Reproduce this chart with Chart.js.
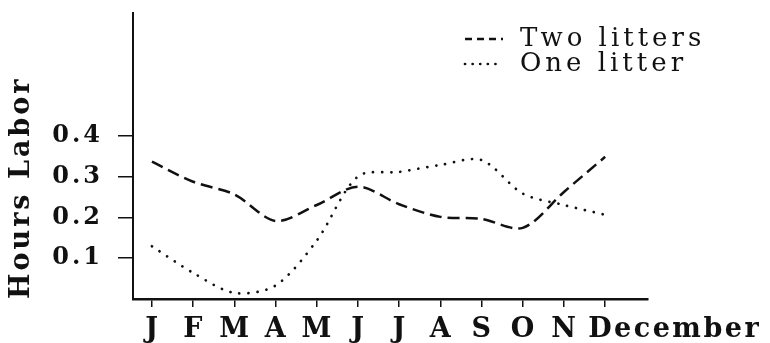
<!DOCTYPE html>
<html>
<head>
<meta charset="utf-8">
<script src="https://cdn.jsdelivr.net/npm/chart.js@4.4.0/dist/chart.umd.min.js"></script>
<style>
  html, body { margin: 0; padding: 0; background: #fff; }
  #wrap { width: 770px; height: 343px; }
</style>
</head>
<body>
<div id="wrap"><canvas id="labor"></canvas></div>
<script>
const months = ['J', 'F', 'M', 'A', 'M', 'J', 'J', 'A', 'S', 'O', 'N', 'December'];
const twoLitters = [0.336, 0.287, 0.256, 0.191, 0.23, 0.275, 0.232, 0.201, 0.196, 0.174, 0.262, 0.348];
const oneLitter = [0.129, 0.064, 0.015, 0.033, 0.143, 0.30, 0.311, 0.328, 0.34, 0.258, 0.23, 0.206];
const yTicks = [0.1, 0.2, 0.3, 0.4];
const seriesNames = ['Two litters', 'One litter'];

const ink = '#111';
const legendDash = [[7, 5], [0.1, 7.5]];

// month labels (last one hangs off to the right) and the stacked legend
const paperText = {
  id: 'paperText',
  beforeDraw(chart) {
    chart.ctx.letterSpacing = '3px';
  },
  afterDraw(chart) {
    const ctx = chart.ctx;
    const x = chart.scales.x;
    ctx.save();
    ctx.fillStyle = ink;
    ctx.textBaseline = 'alphabetic';
    ctx.font = 'bold 27px "DejaVu Serif"';
    ctx.letterSpacing = '2.5px';
    months.forEach((m, i) => {
      const px = x.getPixelForValue(i);
      if (i === months.length - 1) {
        ctx.textAlign = 'left';
        ctx.fillText(m, px - 17, 337);
      } else {
        ctx.textAlign = 'center';
        ctx.fillText(m, px + 1, 337);
      }
    });

    ctx.font = '26px "DejaVu Serif"';
    ctx.letterSpacing = '4px';
    ctx.textAlign = 'left';
    chart.data.datasets.forEach((ds, i) => {
      const y = 39 + i * 25;
      ctx.beginPath();
      ctx.setLineDash(legendDash[i]);
      ctx.lineCap = ds.borderCapStyle;
      ctx.lineWidth = ds.borderWidth;
      ctx.strokeStyle = ds.borderColor;
      ctx.moveTo(465, y);
      ctx.lineTo(503, y);
      ctx.stroke();
      ctx.fillText(ds.label, 520, y + 7);
    });
    ctx.restore();
  }
};

new Chart(document.getElementById('labor'), {
  type: 'line',
  data: {
    datasets: [
      {
        label: seriesNames[0],
        data: months.map((m, i) => ({ x: i, y: twoLitters[i] })),
        borderColor: ink,
        borderWidth: 2.5,
        borderDash: [12, 6],
        borderCapStyle: 'butt',
        pointRadius: 0,
        tension: 0.3,
        fill: false
      },
      {
        label: seriesNames[1],
        data: months.map((m, i) => ({ x: i, y: oneLitter[i] })),
        borderColor: ink,
        borderWidth: 2.7,
        borderDash: [0.1, 9],
        borderCapStyle: 'round',
        pointRadius: 0,
        tension: 0.3,
        fill: false
      }
    ]
  },
  options: {
    responsive: true,
    maintainAspectRatio: false,
    animation: false,
    layout: { padding: { top: 13, right: 122, left: 0, bottom: 0 } },
    plugins: {
      legend: { display: false },
      tooltip: { enabled: false }
    },
    scales: {
      x: {
        type: 'linear',
        min: -0.46,
        max: 12.04,
        afterBuildTicks: s => { s.ticks = months.map((m, i) => ({ value: i })); },
        ticks: { display: false },
        grid: { drawOnChartArea: false, drawTicks: true, tickLength: 8, color: ink, lineWidth: 1.5 },
        border: { color: ink, width: 2.5 },
        afterFit: s => { s.height = 44; s.paddingLeft = 0; s.paddingRight = 0; }
      },
      y: {
        min: 0,
        max: 0.7,
        afterBuildTicks: s => { s.ticks = yTicks.map(v => ({ value: v })); },
        ticks: {
          color: ink,
          font: { family: 'DejaVu Serif', size: 24, weight: 'bold' },
          padding: 15,
          callback: v => v.toFixed(1)
        },
        grid: { drawOnChartArea: false, tickLength: 15, color: ink, lineWidth: 1.5 },
        border: { color: ink, width: 2 },
        title: {
          display: true,
          text: 'Hours Labor',
          color: ink,
          align: 'start',
          font: { family: 'DejaVu Serif', size: 27, weight: 'bold' },
          padding: { top: 6, bottom: 0 }
        },
        afterFit: s => { s.width = 133; s.paddingTop = 0; s.paddingBottom = 0; }
      }
    }
  },
  plugins: [paperText]
});
</script>
</body>
</html>
